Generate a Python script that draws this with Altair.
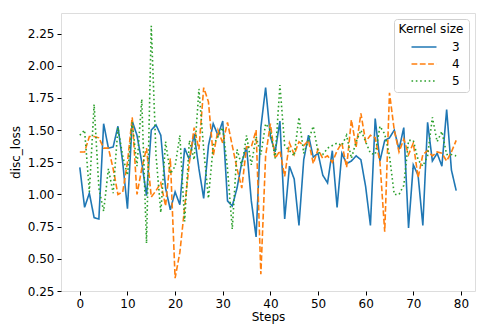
import altair as alt
import pandas as pd

steps = list(range(80))

k3 = [1.21, 0.90, 1.01, 0.82, 0.81, 1.55, 1.36, 1.37, 1.53, 1.25,
      0.89, 1.57, 1.46, 1.25, 0.99, 1.50, 1.54, 1.46, 1.05, 0.88,
      1.02, 0.92, 1.36, 1.27, 1.47, 1.20, 0.97, 1.38, 1.55, 1.46,
      1.57, 0.95, 0.91, 1.05, 1.25, 1.37, 0.95, 0.67, 1.52, 1.83,
      1.45, 1.33, 1.57, 0.81, 1.22, 1.12, 0.76, 1.27, 1.46, 1.29,
      1.32, 1.15, 1.09, 1.34, 0.90, 1.32, 1.24, 1.26, 1.30, 1.27,
      1.06, 0.76, 1.59, 1.26, 1.42, 1.44, 1.50, 1.35, 1.52, 0.74,
      1.23, 1.15, 0.76, 1.56, 1.26, 1.32, 1.22, 1.66, 1.19, 1.03]

k4 = [1.33, 1.33, 1.45, 1.45, 1.44, 1.36, 1.36, 1.20, 1.00, 1.02,
      1.25, 1.60, 1.00, 1.20, 1.36, 0.98, 1.03, 1.09, 0.91, 1.28,
      0.35, 0.55, 0.90, 1.25, 1.52, 1.35, 1.83, 1.72, 1.30, 1.50,
      1.40, 1.56, 1.38, 1.20, 1.05, 1.37, 1.37, 1.50, 0.38, 1.30,
      1.55, 1.28, 1.34, 1.14, 1.40, 1.31, 1.41, 1.38, 1.42, 1.24,
      1.35, 1.28, 1.30, 1.25, 1.34, 1.40, 1.21, 1.58, 1.37, 1.63,
      1.41, 1.46, 1.44, 1.25, 0.71, 1.79, 1.50, 1.33, 1.43, 1.31,
      1.40, 1.13, 1.31, 1.34, 1.30, 1.33, 1.32, 1.26, 1.33, 1.42]

k5 = [1.46, 1.50, 1.02, 1.70, 1.05, 0.87, 1.20, 1.01, 1.52, 1.30,
      1.15, 1.56, 1.22, 1.74, 0.62, 2.31, 1.30, 0.86, 1.41, 1.16,
      1.22, 1.46, 0.79, 1.42, 1.27, 1.82, 1.35, 0.97, 1.38, 1.45,
      1.52, 1.20, 0.73, 1.35, 1.22, 1.46, 1.23, 1.45, 1.31, 1.55,
      1.50, 1.28, 1.85, 1.38, 1.34, 1.30, 1.60, 1.32, 1.42, 1.53,
      1.33, 1.31, 1.36, 1.38, 1.40, 1.38, 1.46, 1.28, 1.41, 1.50,
      1.41, 1.32, 1.31, 1.53, 1.47, 1.30, 1.00, 1.00, 1.07, 1.42,
      1.42, 1.27, 1.22, 1.30, 1.60, 1.41, 1.49, 1.31, 1.31, 1.30]

kernel_sizes = ["3", "4", "5"]
x_ticks = [0, 10, 20, 30, 40, 50, 60, 70, 80]
y_ticks = [0.25, 0.5, 0.75, 1.0, 1.25, 1.5, 1.75, 2.0, 2.25]

rows = []
for name, vals in zip(kernel_sizes, [k3, k4, k5]):
    for s, v in zip(steps, vals):
        rows.append({"Steps": s, "disc_loss": v, "Kernel size": name})
df = pd.DataFrame(rows)

FONT = "DejaVu Sans"
FS = 12

axis_common = dict(grid=False, domain=False, tickColor="black", tickWidth=1,
                   tickSize=4, labelPadding=3, labelFontSize=FS, labelColor="black",
                   labelFont=FONT, titleFont=FONT, titleFontSize=FS,
                   titleFontWeight="normal", titleColor="black")

chart = alt.Chart(df).mark_line(strokeWidth=1.6).encode(
    x=alt.X("Steps:Q",
            scale=alt.Scale(domain=[-3.95, 82.95], nice=False, zero=False),
            axis=alt.Axis(values=x_ticks, format="d", title="Steps",
                          titlePadding=2, **axis_common)),
    y=alt.Y("disc_loss:Q",
            scale=alt.Scale(domain=[0.25, 2.41], nice=False, zero=False),
            axis=alt.Axis(values=y_ticks, format=".2f", title="disc_loss",
                          titlePadding=5, **axis_common)),
    color=alt.Color("Kernel size:N",
                    scale=alt.Scale(domain=kernel_sizes,
                                    range=["#1f77b4", "#ff7f0e", "#2ca02c"]),
                    legend=alt.Legend(orient="top-right", offset=6,
                                      symbolType="M-4,0H4", symbolSize=39,
                                      symbolStrokeWidth=1.6, symbolOffset=15,
                                      labelFont=FONT, labelFontSize=FS, labelColor="black",
                                      titleFont=FONT, titleFontSize=FS,
                                      titleFontWeight="normal", titleColor="black",
                                      titleAnchor="middle", titlePadding=5,
                                      fillColor="white", strokeColor="#d0d0d0",
                                      cornerRadius=3, padding=5, rowPadding=5,
                                      labelOffset=22)),
    strokeDash=alt.StrokeDash("Kernel size:N",
                              scale=alt.Scale(domain=kernel_sizes,
                                              range=[[1, 0], [5.8, 2.5], [1.6, 2.7]]),
                              legend=None),
).properties(
    width=414,
    height=278,
    autosize=alt.AutoSizeParams(type="none"),
    padding={"left": 53, "top": 5, "right": 5, "bottom": 40},
).configure_view(
    stroke="black",
    strokeWidth=0.9,
).configure(
    background="white",
)

chart.save("out.html", embed_options={"renderer": "svg", "actions": False})
